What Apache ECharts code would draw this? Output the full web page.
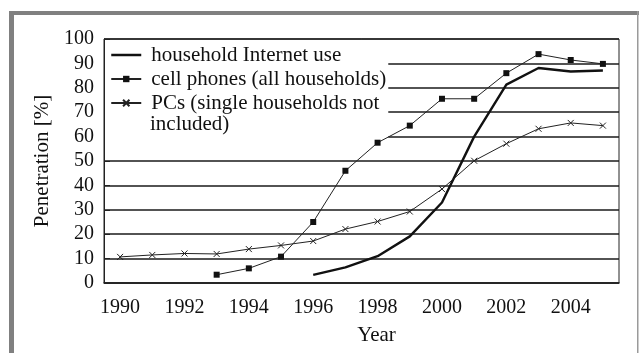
<!DOCTYPE html>
<html><head><meta charset="utf-8">
<script src="https://cdn.jsdelivr.net/npm/echarts@6/dist/echarts.min.js"></script>
<style>html,body{margin:0;padding:0;background:#fff}#c{width:640px;height:353px}</style>
</head><body><div id="c"></div>
<script>
var years = ['1990','1991','1992','1993','1994','1995','1996','1997','1998','1999','2000','2001','2002','2003','2004','2005'];
var internet = [null,null,null,null,null,null,3.3,6.4,11,19.1,33,60,81.3,88.1,86.7,87.1];
var cellPhones = [null,null,null,3.4,6.0,10.8,25.0,46,57.5,64.5,75.5,75.5,86,93.8,91.4,89.8];
var pcs = [10.7,11.5,12.1,11.9,13.9,15.4,17.2,22.1,25.2,29.3,38.5,50.1,57.1,63.2,65.6,64.5];
var seriesNames = ['household Internet use','cell phones (all households)','PCs (single households not'];
var legendContinuation = 'included)';
var yTicks = [0,10,20,30,40,50,60,70,80,90,100];

var font = 'Liberation Serif';
var chart = echarts.init(document.getElementById('c'), null, {renderer:'canvas'});
chart.setOption({
  animation:false,
  backgroundColor:'#fff',
  graphic:[
    {type:'rect', shape:{x:9,y:11,width:630,height:4}, style:{fill:'#808080'}, silent:true},
    {type:'rect', shape:{x:9,y:11,width:5,height:342}, style:{fill:'#808080'}, silent:true},
    {type:'rect', shape:{x:637,y:11,width:1.5,height:342}, style:{fill:'#9a9a9a'}, silent:true},
    {type:'text', left:150, top:114, z:20, silent:true,
     style:{text:legendContinuation, font:'21px "Liberation Serif"', fill:'#111'}}
  ],
  grid:{left:104,right:21,top:39,bottom:70,show:true,borderColor:'#222',borderWidth:1},
  legend:{
    orient:'vertical', left:105, top:41, itemWidth:30, itemHeight:8, itemGap:0,
    backgroundColor:'#fff', padding:[2,2,37,5],
    textStyle:{fontFamily:font,fontSize:21,color:'#111',lineHeight:24,padding:[0,0,0,5]},
    data:[
      {name:seriesNames[0], icon:'line', itemStyle:{borderColor:'#111',borderWidth:2.5,color:'#111'}},
      {name:seriesNames[1]},
      {name:seriesNames[2]}
    ]
  },
  xAxis:{
    type:'category', data:years, boundaryGap:true,
    name:'Year', nameLocation:'middle', nameGap:42,
    nameTextStyle:{fontFamily:font,fontSize:21,color:'#111',padding:[0,0,0,30]},
    axisLine:{lineStyle:{color:'#222',width:1.5}},
    axisTick:{inside:true,length:5,interval:0,alignWithLabel:false,lineStyle:{color:'#222'}},
    axisLabel:{interval:1,margin:15,fontFamily:font,fontSize:20,color:'#111'}
  },
  yAxis:{
    type:'value', min:yTicks[0], max:yTicks[yTicks.length-1], interval:10,
    name:'Penetration [%]', nameLocation:'middle', nameGap:46,
    nameTextStyle:{fontFamily:font,fontSize:21,color:'#111'},
    axisLine:{show:true,lineStyle:{color:'#222',width:1}},
    axisTick:{show:true,inside:true,length:6,lineStyle:{color:'#222'}},
    axisLabel:{margin:10,fontFamily:font,fontSize:20,color:'#111'},
    splitLine:{show:true,lineStyle:{color:'#1a1a1a',width:1.6}}
  },
  series:[
    {name:seriesNames[0], type:'line', data:internet, symbol:'none', connectNulls:false,
     lineStyle:{color:'#111',width:2.4}, itemStyle:{color:'#111'}, z:3},
    {name:seriesNames[1], type:'line', data:cellPhones, symbol:'rect', symbolSize:6,
     lineStyle:{color:'#222',width:1}, itemStyle:{color:'#111'}, z:4},
    {name:seriesNames[2], type:'line', data:pcs, symbol:'path://M0,0L10,10M10,0L0,10', symbolSize:6,
     lineStyle:{color:'#222',width:1}, itemStyle:{color:'#222',borderColor:'#222',borderWidth:1}, z:4}
  ]
});
</script></body></html>
